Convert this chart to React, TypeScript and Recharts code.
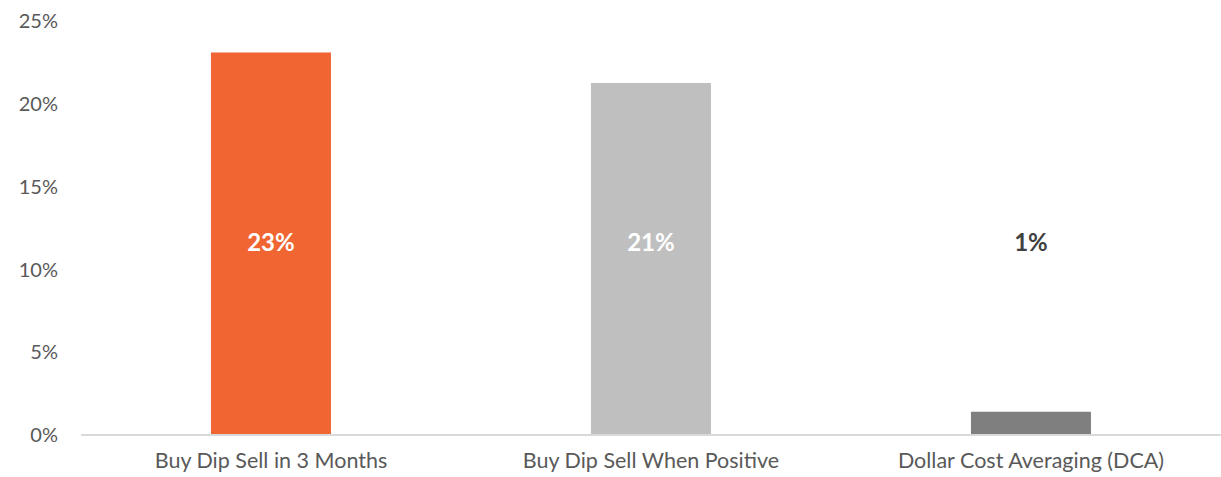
import { BarChart, Bar, XAxis, YAxis, Cell, LabelList, ReferenceLine } from "recharts";

const CATEGORIES = [
  "Buy Dip Sell in 3 Months",
  "Buy Dip Sell When Positive",
  "Dollar Cost Averaging (DCA)",
];
const RETURNS = [23.1, 21.25, 1.4];
const LABELS = ["23%", "21%", "1%"];
const COLORS = ["#F06532", "#BFBFBF", "#7F7F7F"];
const LABEL_COLORS = ["#FFFFFF", "#FFFFFF", "#404040"];
const Y_TICKS = [0, 5, 10, 15, 20, 25];

const data = CATEGORIES.map((name, i) => ({ name, value: RETURNS[i], label: LABELS[i] }));

const FONT = "Lato, 'Open Sans', sans-serif";

// labels sit at a common height, about the middle of the plot
const renderLabel = (props: any) => {
  const { x, y, width, height, index } = props;
  const bottom = y + height;
  return (
    <text
      x={x + width / 2}
      y={bottom - 194}
      textAnchor="middle"
      dominantBaseline="central"
      fill={LABEL_COLORS[index]}
      fontSize={24}
      fontWeight={700}
      fontFamily={FONT}
    >
      {LABELS[index]}
    </text>
  );
};

export default function App() {
  return (
    <div style={{ position: "absolute", left: 0, top: 0, background: "#fff" }}>
      <BarChart
        width={1221}
        height={477}
        data={data}
        margin={{ top: 21, right: 0, bottom: 0, left: 0 }}
        barCategoryGap="34.2%"
      >
        <XAxis
          dataKey="name"
          axisLine={false}
          tickLine={false}
          tickSize={0}
          tickMargin={18}
          height={42}
          tick={{ fill: "#595959", fontSize: 21.5, fontFamily: FONT }}
        />
        <YAxis
          domain={[0, 25]}
          ticks={Y_TICKS}
          width={81}
          axisLine={false}
          tickLine={false}
          tickSize={0}
          tickMargin={23}
          tickFormatter={(v) => `${v}%`}
          tick={{ fill: "#595959", fontSize: 20, fontFamily: FONT }}
        />
        <ReferenceLine y={0} stroke="#D9D9D9" strokeWidth={2} />
        <Bar dataKey="value" isAnimationActive={false}>
          {data.map((_, i) => (
            <Cell key={i} fill={COLORS[i]} />
          ))}
          <LabelList dataKey="label" content={renderLabel} />
        </Bar>
      </BarChart>
    </div>
  );
}
